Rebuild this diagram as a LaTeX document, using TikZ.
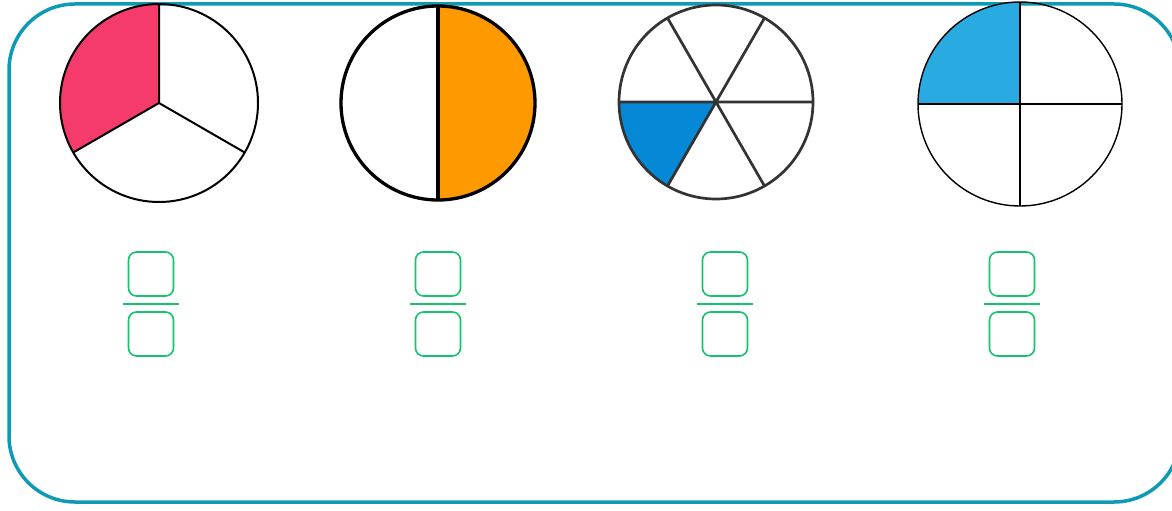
\documentclass[tikz,border=0pt]{standalone}
\usepackage{tikz}
\usetikzlibrary{positioning}

\definecolor{framecol}{HTML}{0E9AB4}
\definecolor{thirdcol}{HTML}{F43B6B}
\definecolor{halfcol}{HTML}{FF9900}
\definecolor{sixthcol}{HTML}{0588D5}
\definecolor{quartcol}{HTML}{29AAE1}
\definecolor{boxcol}{HTML}{16C26B}
\definecolor{piegray}{HTML}{333333}

\begin{document}
\begin{tikzpicture}[
  x=1pt, y=1pt,
  frame/.style={draw=framecol, line width=3.5pt, rounded corners=66pt},
  numbox/.style={draw=boxcol, line width=1.6pt, rounded corners=8pt, minimum width=45pt, minimum height=44pt, inner sep=0pt},
  bar/.style={draw=boxcol, line width=1.6pt},
  pie/.style={line width=#1, line join=round}
]
  \useasboundingbox (0,0) rectangle (1172,-511);
  \draw[frame] (9,-4) rectangle (1180,-502);

  % pie centres
  \coordinate (c1) at (159,-103);
  \coordinate (c2) at (438,-103);
  \coordinate (c3) at (716,-102);
  \coordinate (c4) at (1020,-104);

  % thirds
  \fill[thirdcol] (c1) -- ++(90:99) arc[start angle=90, end angle=210, radius=99] -- cycle;
  \draw[pie=2pt] (c1) circle[radius=99];
  \draw[pie=2pt] (c1) -- ++(90:99) (c1) -- ++(210:99) (c1) -- ++(330:99);

  % halves
  \fill[halfcol] (c2) -- ++(-90:97) arc[start angle=-90, end angle=90, radius=97] -- cycle;
  \draw[pie=3.3pt] (c2) circle[radius=97];
  \draw[pie=3.3pt] ([yshift=97pt]c2) -- ([yshift=-97pt]c2);

  % sixths
  \fill[sixthcol] (c3) -- ++(180:97) arc[start angle=180, end angle=240, radius=97] -- cycle;
  \draw[pie=2.7pt, piegray] (c3) circle[radius=97];
  \draw[pie=2.7pt, piegray] (c3) -- ++(0:97) (c3) -- ++(60:97) (c3) -- ++(120:97)
    (c3) -- ++(180:97) (c3) -- ++(240:97) (c3) -- ++(300:97);

  % quarters
  \fill[quartcol] (c4) -- ++(90:102) arc[start angle=90, end angle=180, radius=102] -- cycle;
  \draw[pie=1.4pt] (c4) circle[radius=102];
  \draw[pie=1.4pt] ([yshift=102pt]c4) -- ([yshift=-102pt]c4)
    ([xshift=-102pt]c4) -- ([xshift=102pt]c4);

  % empty fractions
  \node[numbox] (num1) at (151,-274) {};
  \node[numbox] (den1) at (151,-334) {};
  \coordinate (bar1) at (151,-304);
  \draw[bar] ([xshift=-28pt]bar1) -- ([xshift=28pt]bar1);

  \node[numbox] (num2) at (438,-274) {};
  \node[numbox] (den2) at (438,-334) {};
  \coordinate (bar2) at (438,-304);
  \draw[bar] ([xshift=-28pt]bar2) -- ([xshift=28pt]bar2);

  \node[numbox] (num3) at (725,-274) {};
  \node[numbox] (den3) at (725,-334) {};
  \coordinate (bar3) at (725,-304);
  \draw[bar] ([xshift=-28pt]bar3) -- ([xshift=28pt]bar3);

  \node[numbox] (num4) at (1012,-274) {};
  \node[numbox] (den4) at (1012,-334) {};
  \coordinate (bar4) at (1012,-304);
  \draw[bar] ([xshift=-28pt]bar4) -- ([xshift=28pt]bar4);
\end{tikzpicture}
\end{document}
